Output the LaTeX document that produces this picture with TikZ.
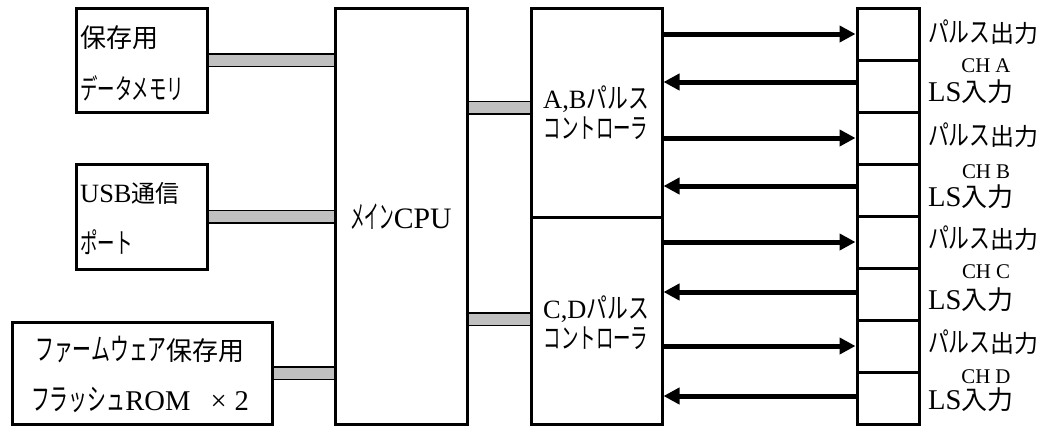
\documentclass[tikz,border=0pt]{standalone}
\usepackage{fontspec}
\setmainfont{Liberation Serif}[Scale=1.1]
\newfontfamily\cjk{Noto Sans CJK JP}
\newfontfamily\hk{Noto Sans CJK JP}[FakeStretch=0.62, Scale=1.17]
\newfontfamily\hkp{Noto Sans CJK JP}[FakeStretch=0.74, Scale=1.17]
\newfontfamily\hkn{Noto Sans CJK JP}[FakeStretch=0.46, Scale=1.17]
\usetikzlibrary{arrows.meta}
\definecolor{busgray}{HTML}{C0C0C0}
\begin{document}
\begin{tikzpicture}[x=1pt,y=-1pt,
  box/.style={draw, line width=3pt, inner sep=0pt},
  bus/.style={draw=black, line width=1.5pt, double=busgray, double distance=11pt},
  arr/.style={line width=5pt, -{Triangle[length=16pt,width=16pt]}},
  lbl/.style={inner sep=0pt, font=\fontsize{24}{28}\selectfont},
  lblb/.style={inner sep=0pt, font=\fontsize{26}{30}\selectfont},
  small/.style={inner sep=0pt, font=\fontsize{19}{22}\selectfont}]
\useasboundingbox (0,0) rectangle (1054,426);
% boxes
\node[box, minimum width=131pt, minimum height=104pt] (mem) at (141.5,60) {};
\node[box, minimum width=131pt, minimum height=105pt] (usb) at (141.5,216.5) {};
\node[box, minimum width=260pt, minimum height=102pt] (rom) at (142,373) {};
\node[box, minimum width=132pt, minimum height=416pt] (cpu) at (401,216) {};
\node[box, minimum width=131pt, minimum height=209pt] (ab) at (596.5,112.5) {};
\node[box, minimum width=131pt, minimum height=207pt] (cd) at (596.5,320.5) {};
\foreach \i/\y in {1/34,2/86,3/138,4/190,5/242,6/294,7/346,8/398}
  \node[box, minimum width=62pt, minimum height=52pt] (r\i) at (888,\y) {};
% buses
\draw[bus] (mem.east) -- (mem.east -| cpu.west);
\draw[bus] (usb.east) -- (usb.east -| cpu.west);
\draw[bus] (rom.east) -- (rom.east -| cpu.west);
\draw[bus] ([yshift=5pt]ab.west) -- ([yshift=5pt]ab.west -| cpu.east);
\draw[bus] ([yshift=1.5pt]cd.west) -- ([yshift=1.5pt]cd.west -| cpu.east);
% arrows
\foreach \o/\n in {1/2,3/4} {
  \draw[arr] (r\o.west -| ab.east) -- (r\o.west);
  \draw[arr] ([yshift=4pt]r\n.west) -- ([yshift=4pt]r\n.west -| ab.east);
}
\foreach \o/\n in {5/6,7/8} {
  \draw[arr] (r\o.west -| cd.east) -- (r\o.west);
  \draw[arr] ([yshift=2pt]r\n.west) -- ([yshift=2pt]r\n.west -| cd.east);
}
% texts
\node[lblb, anchor=west] (t1) at (80,38) {\cjk 保存用};
\node[lbl, anchor=west] (t2) at (80,88) {\hk データメモリ};
\node[lbl, anchor=west] (t3) at (80,193) {USB{\cjk 通信}};
\node[lbl, anchor=west] (t4) at (80,242) {\hk ポート};
\node[lblb] (t5) at (140,350) {{\hk ファームウェア}{\cjk 保存用}};
\node[lblb] (t6) at (140,400) {{\hk フラッシュ}ROM\hspace{20pt}×\hspace{8pt}2};
\node[inner sep=0pt, font=\fontsize{27}{30}\selectfont] (t7) at (401,217) {{\hkn メイン}CPU};
\node[lbl] (t8) at (596,99) {A,B{\hkp パルス}};
\node[lbl] (t9) at (596,128) {\hk コントローラ};
\node[lbl] (t10) at (596,309) {C,D{\hkp パルス}};
\node[lbl] (t11) at (596,338) {\hk コントローラ};
\foreach \k/\a/\b/\c/\ch in {A/32/66/92/A, B/135/172/197/B, C/238/272/300/C, D/342/377/400/D} {
  \node[lbl, anchor=west] (p\k) at (928,\a) {{\hkp パルス}{\cjk 出力}};
  \node[small] (c\k) at (986,\b) {CH\hspace{5pt}\ch};
  \node[lblb, anchor=west] (l\k) at (928,\c) {LS{\cjk 入力}};
}
\end{tikzpicture}
\end{document}
